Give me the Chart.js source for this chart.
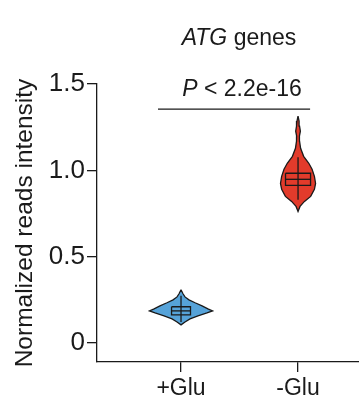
<!DOCTYPE html>
<html>
<head>
<meta charset="utf-8">
<script src="https://cdn.jsdelivr.net/npm/chart.js@4.4.1/dist/chart.umd.min.js"></script>
<style>
  html, body { margin: 0; padding: 0; background: #fff; }
  #wrap { width: 359px; height: 419px; }
</style>
</head>
<body>
<div id="wrap"><canvas id="violinChart" width="359" height="419"></canvas></div>
<script>
const groups = ['+Glu', '-Glu'];
const groupX = [1, 2];
const groupColors = ['#56a3d9', '#e23b2b'];

// violin profiles: value levels (top to bottom) and half widths in category units
const plusGluLevels = [0.308, 0.285, 0.267, 0.250, 0.233, 0.215, 0.198, 0.186, 0.174, 0.157, 0.140, 0.122, 0.105];
const plusGluWidths = [0, 0.017, 0.034, 0.068, 0.12, 0.18, 0.23, 0.27, 0.222, 0.145, 0.077, 0.034, 0];
const minusGluLevels = [1.314, 1.285, 1.256, 1.227, 1.198, 1.169, 1.128, 1.081, 1.041, 1.006, 0.965, 0.924, 0.890, 0.849, 0.820, 0.791, 0.762];
const minusGluWidths = [0, 0.009, 0.013, 0.02, 0.012, 0.013, 0.022, 0.048, 0.092, 0.12, 0.14, 0.15, 0.14, 0.108, 0.055, 0.017, 0];

// box stats: whisker low, q1, median, q3, whisker high
const plusGluBox = [0.122, 0.163, 0.186, 0.21, 0.273];
const minusGluBox = [0.83, 0.913, 0.948, 0.983, 1.076];
const boxHalfWidths = [0.081, 0.107];

const yTickValues = [0, 0.5, 1.0, 1.5];
const yTickLabels = ['0', '0.5', '1.0', '1.5'];

const sigBarX = [0.803, 2.103];
const sigBarY = 1.355;

const titleParts = [['italic', 'ATG'], ['normal', ' genes']];
const pValueParts = [['italic', 'P'], ['normal', ' < 2.2e-16']];
const yTitle = 'Normalized reads intensity';

const fontFamily = '"Liberation Sans", Arial, Helvetica, sans-serif';
const ink = '#1a1a1a';

function violinOutline(center, levels, widths) {
    const pts = [];
    for (let i = 0; i < levels.length; i++) {
        pts.push({ x: center - widths[i], y: levels[i] });
    }
    for (let i = levels.length - 1; i >= 0; i--) {
        pts.push({ x: center + widths[i], y: levels[i] });
    }
    return pts;
}

function boxOutline(center, stats, hw) {
    return [
        { x: center - hw, y: stats[3] },
        { x: center + hw, y: stats[3] },
        { x: center + hw, y: stats[1] },
        { x: center - hw, y: stats[1] },
        { x: center - hw, y: stats[3] }
    ];
}

function lineSet(data, order) {
    return {
        data: data,
        borderColor: ink,
        borderWidth: 1.3,
        pointRadius: 0,
        fill: false,
        tension: 0,
        order: order
    };
}

function buildDatasets() {
    const sets = [];
    const profiles = [
        [plusGluLevels, plusGluWidths, plusGluBox],
        [minusGluLevels, minusGluWidths, minusGluBox]
    ];
    profiles.forEach((p, i) => {
        const c = groupX[i];
        sets.push({
            data: violinOutline(c, p[0], p[1]),
            backgroundColor: groupColors[i],
            borderColor: ink,
            borderWidth: 1.3,
            pointRadius: 0,
            fill: 'shape',
            tension: 0,
            order: 5
        });
        sets.push({
            data: boxOutline(c, p[2], boxHalfWidths[i]),
            backgroundColor: groupColors[i],
            borderColor: ink,
            borderWidth: 1.3,
            pointRadius: 0,
            fill: 'shape',
            tension: 0,
            order: 4
        });
        sets.push(lineSet([{ x: c, y: p[2][0] }, { x: c, y: p[2][4] }], 3));
        sets.push(lineSet([{ x: c - boxHalfWidths[i], y: p[2][2] }, { x: c + boxHalfWidths[i], y: p[2][2] }], 2));
    });
    sets.push(lineSet([{ x: sigBarX[0], y: sigBarY }, { x: sigBarX[1], y: sigBarY }], 1));
    return sets;
}

function drawMixed(ctx, parts, cx, baseline, size) {
    let total = 0;
    parts.forEach(p => {
        ctx.font = p[0] + ' ' + size + 'px ' + fontFamily;
        total += ctx.measureText(p[1]).width;
    });
    let x = cx - total / 2;
    ctx.textBaseline = 'alphabetic';
    ctx.textAlign = 'left';
    ctx.fillStyle = ink;
    parts.forEach(p => {
        ctx.font = p[0] + ' ' + size + 'px ' + fontFamily;
        ctx.fillText(p[1], x, baseline);
        x += ctx.measureText(p[1]).width;
    });
}

const labelPlugin = {
    id: 'labels',
    afterDraw(chart) {
        const ctx = chart.ctx;
        ctx.save();
        drawMixed(ctx, titleParts, 239, 45, 23);
        drawMixed(ctx, pValueParts, 242, 96, 23);
        ctx.restore();
    }
};

const ctx = document.getElementById('violinChart').getContext('2d');
new Chart(ctx, {
    type: 'line',
    data: { datasets: buildDatasets() },
    plugins: [labelPlugin],
    options: {
        responsive: false,
        animation: false,
        devicePixelRatio: 1,
        layout: { padding: { top: 84, left: 0, right: 0, bottom: 0 } },
        plugins: {
            legend: { display: false },
            tooltip: { enabled: false }
        },
        scales: {
            x: {
                type: 'linear',
                min: 0.282,
                max: 2.521,
                afterBuildTicks: scale => { scale.ticks = groupX.map(v => ({ value: v })); },
                afterFit: scale => { scale.height = 57; },
                grid: { drawOnChartArea: false, drawTicks: true, tickLength: 10, color: ink, lineWidth: 1.3 },
                border: { display: true, color: ink, width: 1.3 },
                ticks: {
                    color: ink,
                    padding: 3,
                    font: { family: fontFamily, size: 23 },
                    callback: value => groups[groupX.indexOf(value)]
                }
            },
            y: {
                type: 'linear',
                min: -0.11,
                max: 1.5,
                afterBuildTicks: scale => { scale.ticks = yTickValues.map(v => ({ value: v })); },
                afterFit: scale => { scale.width = 97; },
                grid: { drawOnChartArea: false, drawTicks: true, tickLength: 10, color: ink, lineWidth: 1.3 },
                border: { display: true, color: ink, width: 1.3 },
                ticks: {
                    color: ink,
                    padding: 2,
                    font: { family: fontFamily, size: 26 },
                    callback: value => yTickLabels[yTickValues.indexOf(value)]
                },
                title: {
                    display: true,
                    text: yTitle,
                    color: ink,
                    padding: { top: 11, bottom: 0 },
                    font: { family: fontFamily, size: 24.5 }
                }
            }
        }
    }
});
</script>
</body>
</html>
